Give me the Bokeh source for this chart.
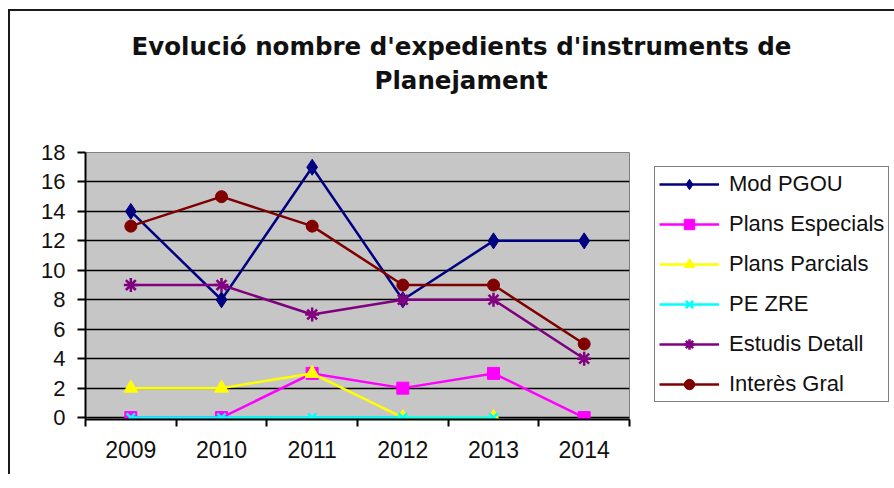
from bokeh.plotting import figure
from bokeh.models import Legend, LegendItem, Title, FixedTicker, Range1d
from bokeh.embed import file_html
from bokeh.resources import INLINE

years = ["2009", "2010", "2011", "2012", "2013", "2014"]
mod_pgou = [14, 8, 17, 8, 12, 12]
plans_especials = [0, 0, 3, 2, 3, 0]
plans_parcials = [2, 2, 3, 0, 0]
pe_zre = [0, 0, 0, 0, 0]
estudis_detall = [9, 9, 7, 8, 8, 4]
interes_gral = [13, 15, 13, 9, 9, 5]
y_ticks = [0, 2, 4, 6, 8, 10, 12, 14, 16, 18]

title_1 = "Evolució nombre d'expedients d'instruments de"
title_2 = "Planejament"

FONT = "Liberation Sans"
TFONT = "DejaVu Sans"

xpos = [i + 0.5 for i in range(len(years))]

p = figure(frame_width=544, frame_height=267, output_backend="svg", toolbar_location=None,
           x_range=Range1d(0, len(years)), y_range=Range1d(-0.13, 18),
           min_border_left=75, min_border_right=10, min_border_top=141, min_border_bottom=55,
           background_fill_color="#c6c6c6", border_fill_color="white")
p.styles = {"margin-left": "8px", "margin-top": "9px",
            "border-left": "2px solid #1a1a1a", "border-top": "2px solid #1a1a1a"}
p.outline_line_color = "#808080"
p.outline_line_width = 1

p.xgrid.visible = False
p.ygrid.ticker = FixedTicker(ticks=y_ticks)
p.ygrid.grid_line_color = "black"
p.ygrid.grid_line_width = 1.5

p.xaxis.ticker = FixedTicker(ticks=xpos, minor_ticks=list(range(len(years) + 1)))
p.xaxis.major_label_overrides = {x: y for x, y in zip(xpos, years)}
p.xaxis.major_tick_out = 0
p.xaxis.major_tick_in = 0
p.xaxis.minor_tick_out = 7
p.xaxis.minor_tick_in = 0
p.xaxis.minor_tick_line_color = "black"
p.xaxis.minor_tick_line_width = 2
p.xaxis.major_label_standoff = 14
p.xaxis.major_label_text_font_size = "23px"
p.yaxis.ticker = FixedTicker(ticks=y_ticks)
p.yaxis.major_tick_out = 8
p.yaxis.major_tick_in = 0
p.yaxis.minor_tick_out = 0
p.yaxis.major_label_standoff = 12
p.yaxis.major_label_text_font_size = "22px"
for ax in (p.xaxis, p.yaxis):
    ax.axis_line_color = "black"
    ax.axis_line_width = 2
    ax.major_tick_line_color = "black"
    ax.major_tick_line_width = 2
    ax.major_label_text_font = FONT
    ax.major_label_text_color = "#111111"

series = [
    ("Mod PGOU", mod_pgou, "#000080", "diamond", 16),
    ("Plans Especials", plans_especials, "#ff00ff", "square", 12),
    ("Plans Parcials", plans_parcials, "#ffff00", "triangle", 14),
    ("PE ZRE", pe_zre, "#00ffff", "x", 12),
    ("Estudis Detall", estudis_detall, "#800080", "asterisk", 14),
    ("Interès Gral", interes_gral, "#800000", "circle", 12),
]

items = []
for name, vals, color, marker, size in series:
    xs = xpos[:len(vals)]
    ln = p.line(xs, vals, line_color=color, line_width=2.5)
    if marker in ("x", "asterisk"):
        sc = p.scatter(xs, vals, marker=marker, size=size, line_color=color, line_width=2.5)
    else:
        sc = p.scatter(xs, vals, marker=marker, size=size, fill_color=color, line_color=color)
    items.append(LegendItem(label=name, renderers=[ln, sc]))

legend = Legend(items=items, location=(25, 17), orientation="vertical",
                glyph_width=60, glyph_height=26, label_height=26, spacing=14,
                padding=4, margin=0, label_standoff=10,
                label_text_font=FONT, label_text_font_size="22px", label_text_color="#111111",
                border_line_color="black", border_line_width=1.5,
                background_fill_color="white", background_fill_alpha=1)
p.add_layout(legend, "right")

tstyle = dict(text_font=TFONT, text_font_size="24.5px", text_font_style="bold", text_color="#111111")
# spacer panel between the plot frame and the two title lines
p.add_layout(Title(text=" ", align="left", offset=0, standoff=27, **tstyle), "above")
p.add_layout(Title(text=title_2, align="left", offset=289, standoff=0, **tstyle), "above")
p.add_layout(Title(text=title_1, align="left", offset=46, standoff=6, **tstyle), "above")

open("out.html", "w").write(file_html(p, INLINE))
